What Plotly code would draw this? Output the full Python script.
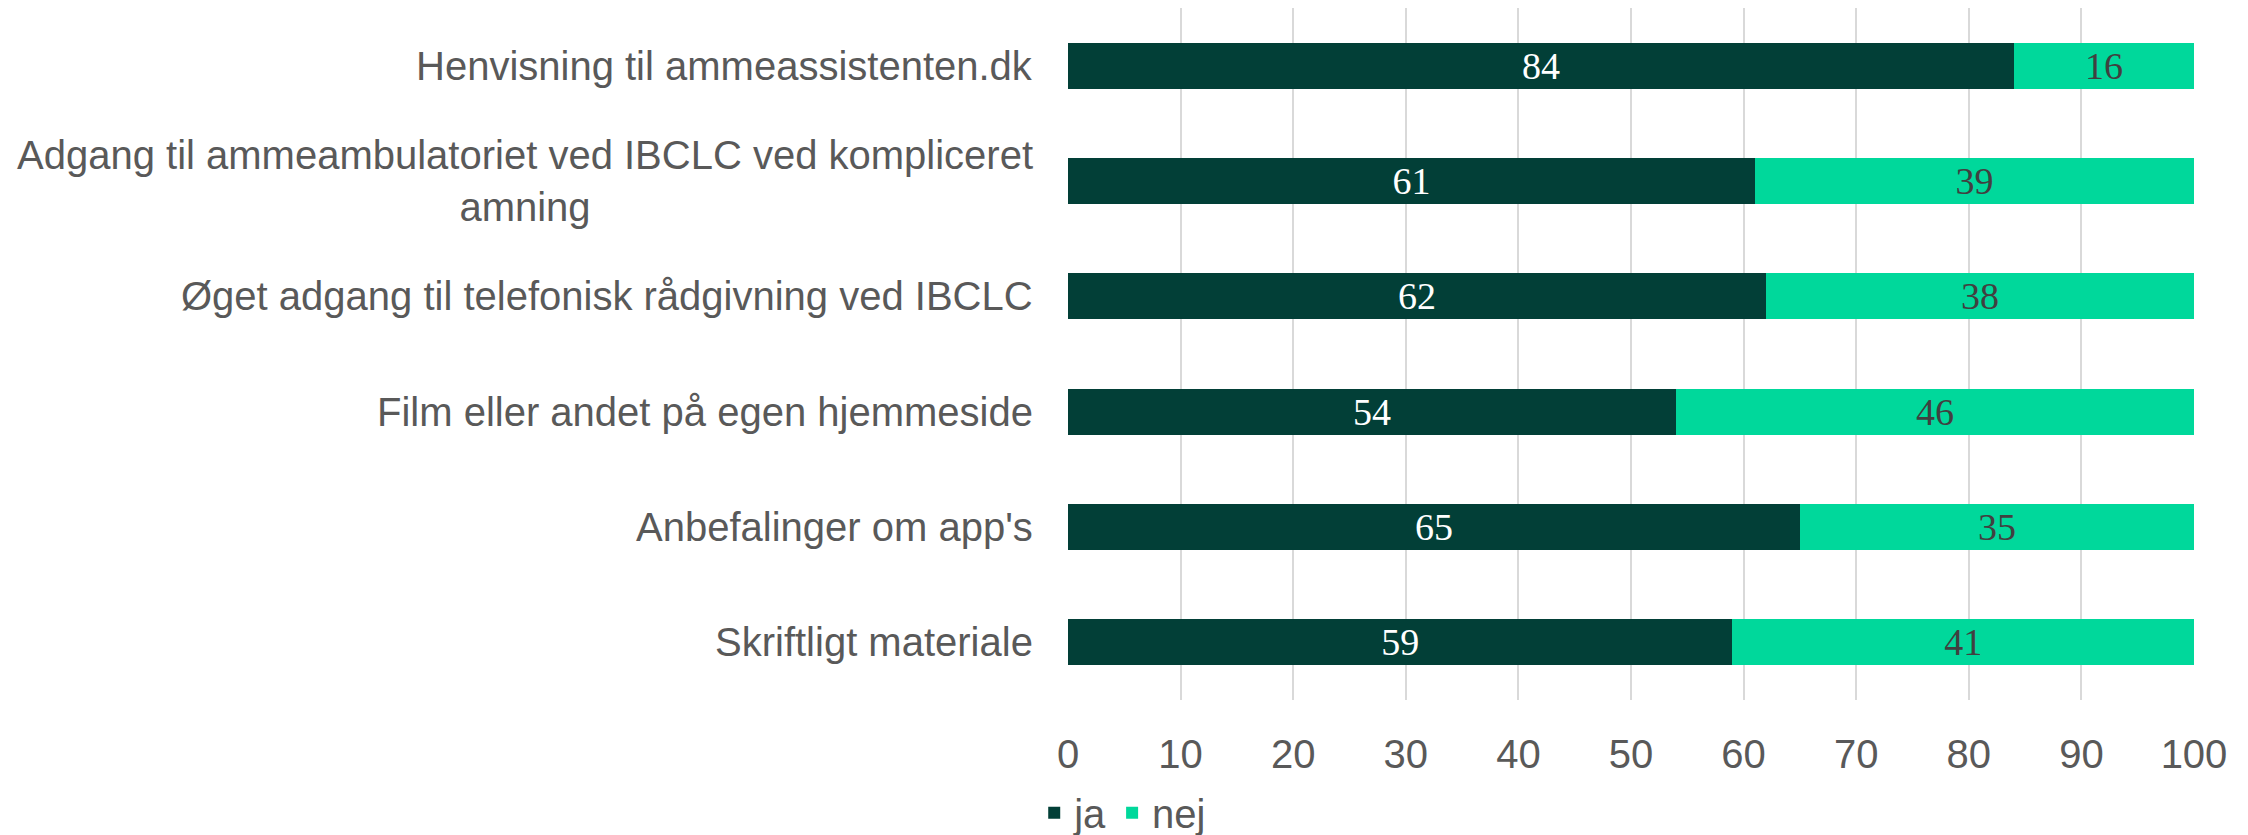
import plotly.graph_objects as go

categories = [
    "Henvisning til ammeassistenten.dk",
    "Adgang til ammeambulatoriet ved IBCLC ved kompliceret<br>amning",
    "Øget adgang til telefonisk rådgivning ved IBCLC",
    "Film eller andet på egen hjemmeside",
    "Anbefalinger om app's",
    "Skriftligt materiale",
]
ja_values = [84, 61, 62, 54, 65, 59]
nej_values = [16, 39, 38, 46, 35, 41]
x_ticks = [0, 10, 20, 30, 40, 50, 60, 70, 80, 90, 100]

DARK = "#023F37"
LIGHT = "#00D89B"
GRAY = "#595959"

fig = go.Figure()
fig.add_trace(go.Bar(
    y=categories, x=ja_values, name="ja", orientation="h",
    marker=dict(color=DARK, line=dict(width=0)),
    text=[str(v) for v in ja_values], textposition="inside",
    insidetextanchor="middle", textangle=0, constraintext="none",
    textfont=dict(family="Liberation Serif", size=38, color="white"),
))
fig.add_trace(go.Bar(
    y=categories, x=nej_values, name="nej", orientation="h",
    marker=dict(color=LIGHT, line=dict(width=0)),
    text=[str(v) for v in nej_values], textposition="inside",
    insidetextanchor="middle", textangle=0, constraintext="none",
    textfont=dict(family="Liberation Serif", size=38, color="#404040"),
))

for c in categories:
    fig.add_annotation(
        x=-0.029, xref="paper", y=c, yref="y", text=c, showarrow=False,
        xanchor="right", yanchor="middle", align="center",
        font=dict(family="Liberation Sans", size=40, color=GRAY),
    )

# the page body has an 8px default margin; size the figure to fit the window
fig.update_layout(
    barmode="stack",
    bargap=0.6,
    width=2240, height=827,
    margin=dict(l=1060, r=54, t=0, b=135, autoexpand=False),
    plot_bgcolor="white", paper_bgcolor="white",
    font=dict(family="Liberation Sans", size=40, color=GRAY),
    showlegend=True,
    legend=dict(
        orientation="h", x=-0.03, xanchor="left",
        yref="paper", y=-0.163, yanchor="middle",
        font=dict(family="Liberation Sans", size=40, color=GRAY),
        itemwidth=30, tracegroupgap=0, traceorder="normal",
    ),
    uniformtext=dict(mode=False),
)
fig.update_xaxes(
    range=[0, 100], tickvals=x_ticks, ticktext=[str(t) for t in x_ticks],
    showgrid=True, gridcolor="#D9D9D9", gridwidth=1.5,
    zeroline=False, showline=False, ticks="",
    tickfont=dict(family="Liberation Sans", size=40, color=GRAY),
    ticklabelstandoff=27, automargin=False,
)
fig.update_yaxes(
    categoryorder="array", categoryarray=categories, autorange="reversed",
    showticklabels=False, showgrid=False, zeroline=False, ticks="",
    automargin=False,
)

fig.write_html("out.html")
